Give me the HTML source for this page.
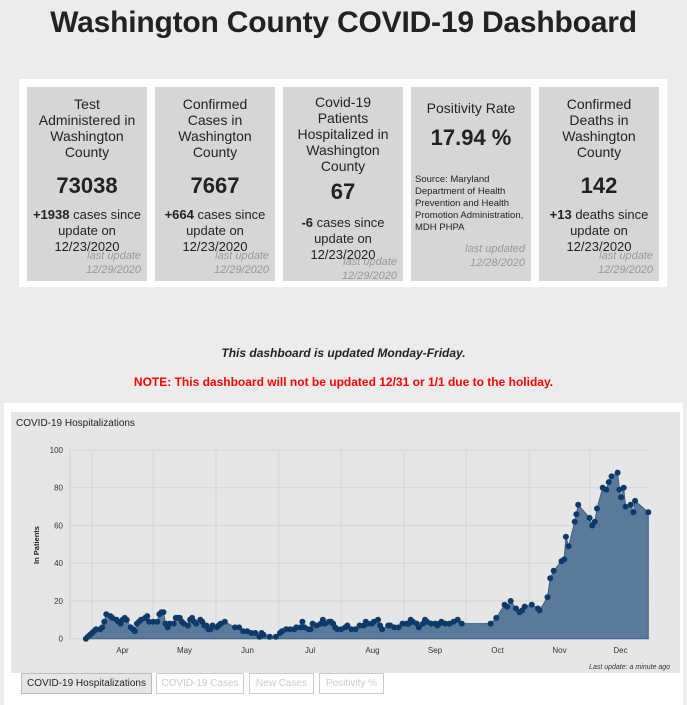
<!DOCTYPE html>
<html><head><meta charset="utf-8"><style>
*{margin:0;padding:0;box-sizing:border-box}
body{width:687px;height:705px;background:#ececec;font-family:"Liberation Sans",Arial,sans-serif;position:relative;overflow:hidden;color:#222}
h1{position:absolute;left:0;width:687px;top:6px;text-align:center;font-size:30px;font-weight:bold;color:#222;letter-spacing:-0.2px}
.wrap{position:absolute;left:19px;top:79px;width:648px;height:208px;background:#fff}
.card{position:absolute;top:8px;width:120px;height:194px;background:#d6d6d6;text-align:center;font-size:14px;line-height:16px;color:#222}
.card .t{margin-top:9px;padding:0 6px}
.card .n{font-size:22px;font-weight:bold;margin-top:14px;line-height:24px}
.card .s{margin-top:9px;font-size:13px;line-height:16px}
.card .u{position:absolute;right:6px;bottom:4px;text-align:right;font-style:italic;color:#999;font-size:11px;line-height:14px}
.note1{position:absolute;top:346px;width:687px;text-align:center;font-weight:bold;font-style:italic;font-size:12px}
.note2{position:absolute;top:375px;width:687px;text-align:center;font-weight:bold;font-size:12px;color:#f00}
.chartbox{position:absolute;left:4px;top:403px;width:679px;height:302px;background:#fff}
.panel{position:absolute;left:11px;top:412px;width:669px;height:261px;background:#e6e6e6}
.tab{position:absolute;top:673px;height:21px;border:1px solid #ccc;background:#fff;color:#ccc;font-size:10px;text-align:center;line-height:19px}
</style></head><body>
<h1>Washington County COVID-19 Dashboard</h1>
<div class="wrap">
<div class="card" style="left:8px"><div class="t">Test Administered in Washington County</div><div class="n">73038</div><div class="s"><b>+1938</b> cases since update on 12/23/2020</div><div class="u">last update<br>12/29/2020</div></div>
<div class="card" style="left:136px"><div class="t">Confirmed Cases in Washington County</div><div class="n">7667</div><div class="s"><b>+664</b> cases since update on 12/23/2020</div><div class="u">last update<br>12/29/2020</div></div>
<div class="card" style="left:264px"><div class="t" style="margin-top:7px">Covid-19 Patients Hospitalized in Washington County</div><div class="n" style="margin-top:6px">67</div><div class="s" style="margin-top:11px"><b>-6</b> cases since update on 12/23/2020</div><div class="u" style="bottom:-2px">last update<br>12/29/2020</div></div>
<div class="card" style="left:392px"><div class="t" style="margin-top:13px">Positivity Rate</div><div class="n" style="margin-top:10px">17.94 %</div><div style="text-align:left;font-size:9.5px;line-height:12px;padding:0 4px;margin-top:24px">Source: Maryland Department of Health Prevention and Health Promotion Administration, MDH PHPA</div><div class="u" style="bottom:11px">last updated<br>12/28/2020</div></div>
<div class="card" style="left:520px"><div class="t">Confirmed Deaths in Washington County</div><div class="n">142</div><div class="s"><b>+13</b> deaths since update on 12/23/2020</div><div class="u">last update<br>12/29/2020</div></div>
</div>
<div class="note1">This dashboard is updated Monday-Friday.</div>
<div class="note2">NOTE: This dashboard will not be updated 12/31 or 1/1 due to the holiday.</div>
<div class="chartbox"></div>
<div class="panel"></div>
<svg id="ch" width="687" height="705" style="position:absolute;left:0;top:0" font-family="Liberation Sans,Arial,sans-serif"></svg>
<div class="tab" style="left:21px;width:131px;background:#e6e6e6;color:#222;border-color:#bbb">COVID-19 Hospitalizations</div>
<div class="tab" style="left:156px;width:88px">COVID-19 Cases</div>
<div class="tab" style="left:249px;width:65px">New Cases</div>
<div class="tab" style="left:319px;width:65px">Positivity %</div>
<script>
var s='';
function Y(v){return 638.7-v*1.887}
s+='<text x="16" y="426" font-size="10" fill="#222">COVID-19 Hospitalizations</text>';
for(var v=0;v<=100;v+=20){var y=Y(v);s+='<line x1="70" x2="650" y1="'+y+'" y2="'+y+'" stroke="#d6d6d6"/>';s+='<text x="63" y="'+(y+3)+'" font-size="8" text-anchor="end" fill="#333">'+v+'</text>';}
var gx=[92,153,216,279,341,404,466,529,590],mn=['Apr','May','Jun','Jul','Aug','Sep','Oct','Nov','Dec'];
for(var i=0;i<gx.length;i++){s+='<line x1="'+gx[i]+'" x2="'+gx[i]+'" y1="450" y2="638.7" stroke="#d6d6d6"/>';var nx=i<8?gx[i+1]:651;s+='<text x="'+((gx[i]+nx)/2)+'" y="653" font-size="8" text-anchor="middle" fill="#333">'+mn[i]+'</text>';}
s+='<line x1="70" x2="70" y1="450" y2="639" stroke="#ccc"/>';
s+='<text transform="translate(39,545) rotate(-90)" font-size="7.5" font-weight="bold" text-anchor="middle" fill="#222">In Patients</text>';
s+='<text x="670" y="669" font-size="7" font-style="italic" text-anchor="end" fill="#333">Last update: a minute ago</text>';
var cum={3:-31,4:0,5:30,6:61,7:91,8:122,9:153,10:183,11:214,12:244};
var early="3/29 0,3/30 1,3/31 2,4/1 3,4/2 4,4/3 5,4/5 5,4/6 6,4/7 9,4/8 13,4/10 12,4/11 11,4/13 10,4/14 9,4/15 8,4/16 10,4/17 11,4/18 10,4/20 6,4/21 5,4/22 4,4/23 8,4/24 9,4/25 10,4/27 11,4/28 12,4/29 9,5/1 9,5/3 9,5/4 13,5/5 14,5/6 14,5/7 8,5/8 6,5/9 8,5/11 8,5/12 11,5/13 11,5/14 11,5/15 9,5/16 8,5/18 7,5/19 10,5/20 11,5/21 9,5/22 8,5/24 10,5/25 9,5/26 7,5/27 7,5/28 5,5/29 5,5/30 7,6/1 6,6/2 7,6/3 8,6/5 9,6/10 6,6/12 6,6/14 4,6/16 4,6/18 3,6/20 3,6/22 1,6/23 3,6/24 2,6/27 1,6/30 1,7/2 3,7/3 4,7/5 5,7/7 5,7/9 5,7/10 6,7/12 6,7/13 9,7/14 6,7/16 5,7/17 5,7/18 8,7/20 7,7/22 8,7/23 10,7/24 8,7/26 9,7/27 9,7/28 8,7/29 6,7/30 5,8/1 5,8/3 6,8/4 7,8/6 5,8/8 5,8/10 7,8/12 7,8/13 9,8/14 8,8/16 8,8/17 9,8/19 10,8/20 7,8/21 5,8/24 7,8/25 7,8/27 6,8/29 6,8/31 8,9/2 8,9/3 8,9/4 10,9/5 9,9/7 8,9/8 6,9/10 8,9/11 10,9/12 9,9/14 8,9/16 8,9/17 7,9/18 8,9/19 9,9/21 8,9/23 8,9/25 9,9/27 10,9/29 8";
var pts=[];
early.split(',').forEach(function(t){var a=t.split(' '),md=a[0].split('/');var d=cum[+md[0]]+(+md[1])-1;pts.push([92+d*2.043,+a[1]]);});
var late="1120 8,1133 11,1152 18,1158 17,1166 20,1178 16,1186 14,1192 15,1198 17,1214 18,1228 16,1232 15,1250 22,1256 32,1264 36,1282 41,1288 42,1292 54,1298 49,1312 62,1316 66,1320 71,1346 64,1352 60,1358 62,1363 69,1376 80,1384 79,1390 83,1396 86,1410 88,1414 79,1418 75,1424 80,1428 70,1440 71,1446 67,1450 73,1480 67";
late.split(',').forEach(function(t){var a=t.split(' ');pts.push([+a[0]/2.283,+a[1]]);});
var d='M'+pts[0][0]+' 638.7';pts.forEach(function(p){d+=' L'+p[0].toFixed(1)+' '+Y(p[1]).toFixed(1)});d+=' L'+pts[pts.length-1][0]+' 638.7Z';
s+='<path d="'+d+'" fill="#5a7a9c" stroke="#3d5f85" stroke-width="1"/>';
pts.forEach(function(p){s+='<circle cx="'+p[0].toFixed(1)+'" cy="'+Y(p[1]).toFixed(1)+'" r="3" fill="#0d3a68"/>'});
document.getElementById('ch').innerHTML=s;
</script>
</body></html>
